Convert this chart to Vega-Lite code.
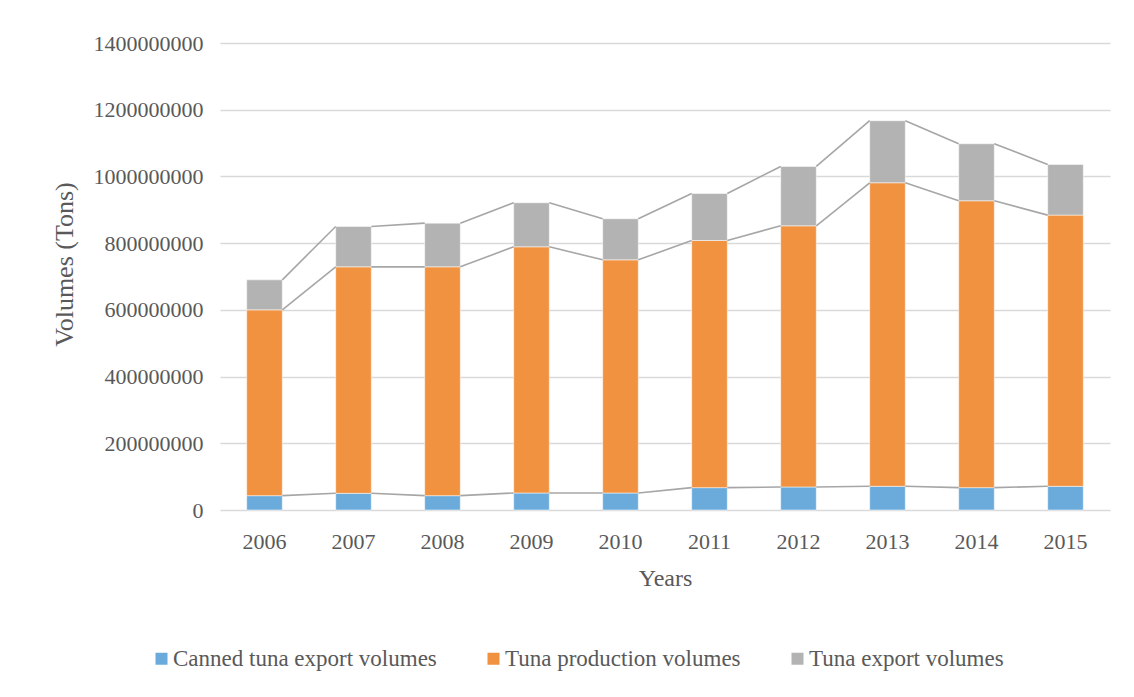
{
  "$schema": "https://vega.github.io/schema/vega-lite/v6.json",
  "width": 890,
  "height": 467,
  "autosize": {"type": "none"},
  "padding": {"left": 220, "top": 43, "right": 24, "bottom": 187},
  "background": "white",
  "config": {"view": {"stroke": null}, "font": "Liberation Serif"},
  "data": {
    "values": [
      {"year": "2006", "series": "Canned tuna export volumes", "value": 43000000},
      {"year": "2006", "series": "Tuna production volumes", "value": 557000000},
      {"year": "2006", "series": "Tuna export volumes", "value": 90000000},
      {"year": "2007", "series": "Canned tuna export volumes", "value": 50000000},
      {"year": "2007", "series": "Tuna production volumes", "value": 679000000},
      {"year": "2007", "series": "Tuna export volumes", "value": 121000000},
      {"year": "2008", "series": "Canned tuna export volumes", "value": 43000000},
      {"year": "2008", "series": "Tuna production volumes", "value": 686000000},
      {"year": "2008", "series": "Tuna export volumes", "value": 131000000},
      {"year": "2009", "series": "Canned tuna export volumes", "value": 51000000},
      {"year": "2009", "series": "Tuna production volumes", "value": 738000000},
      {"year": "2009", "series": "Tuna export volumes", "value": 132000000},
      {"year": "2010", "series": "Canned tuna export volumes", "value": 51000000},
      {"year": "2010", "series": "Tuna production volumes", "value": 699000000},
      {"year": "2010", "series": "Tuna export volumes", "value": 123000000},
      {"year": "2011", "series": "Canned tuna export volumes", "value": 67000000},
      {"year": "2011", "series": "Tuna production volumes", "value": 741000000},
      {"year": "2011", "series": "Tuna export volumes", "value": 141000000},
      {"year": "2012", "series": "Canned tuna export volumes", "value": 69000000},
      {"year": "2012", "series": "Tuna production volumes", "value": 783000000},
      {"year": "2012", "series": "Tuna export volumes", "value": 178000000},
      {"year": "2013", "series": "Canned tuna export volumes", "value": 71000000},
      {"year": "2013", "series": "Tuna production volumes", "value": 910000000},
      {"year": "2013", "series": "Tuna export volumes", "value": 186000000},
      {"year": "2014", "series": "Canned tuna export volumes", "value": 67000000},
      {"year": "2014", "series": "Tuna production volumes", "value": 860000000},
      {"year": "2014", "series": "Tuna export volumes", "value": 171000000},
      {"year": "2015", "series": "Canned tuna export volumes", "value": 71000000},
      {"year": "2015", "series": "Tuna production volumes", "value": 813000000},
      {"year": "2015", "series": "Tuna export volumes", "value": 152000000}
    ]
  },
  "transform": [
    {"stack": "value", "groupby": ["year"], "as": ["v0", "v1"]}
  ],
  "layer": [
    {
      "mark": {"type": "bar", "stroke": "#ffffff", "strokeWidth": 1, "strokeOpacity": 0.5},
      "encoding": {
        "x": {
          "field": "year",
          "type": "ordinal",
          "title": "Years",
          "scale": {"paddingInner": 0.6, "paddingOuter": 0.3},
          "axis": {
            "labelAngle": 0,
            "domain": false,
            "ticks": false,
            "labelFontSize": 22,
            "labelColor": "#595959",
            "labelPadding": 21,
            "titleFontSize": 24,
            "titleFontWeight": "normal",
            "titleColor": "#595959",
            "titlePadding": 14
          }
        },
        "y": {
          "field": "v0",
          "type": "quantitative",
          "title": "Volumes (Tons)",
          "scale": {"domain": [0, 1400000000], "nice": false},
          "axis": {
            "values": [0, 200000000, 400000000, 600000000, 800000000, 1000000000, 1200000000, 1400000000],
            "format": "d",
            "domain": false,
            "ticks": false,
            "grid": true,
            "gridColor": "#d9d9d9",
            "gridWidth": 1.5,
            "labelFontSize": 22,
            "labelColor": "#595959",
            "labelPadding": 17,
            "titleFontSize": 26,
            "titleFontWeight": "normal",
            "titleColor": "#595959",
            "titlePadding": 16,
            "titleY": 221
          }
        },
        "y2": {"field": "v1"},
        "color": {
          "field": "series",
          "type": "nominal",
          "scale": {
            "domain": ["Canned tuna export volumes", "Tuna production volumes", "Tuna export volumes"],
            "range": ["#6aabdc", "#f19240", "#b3b3b3"]
          },
          "legend": {
            "orient": "none",
            "direction": "horizontal",
            "legendX": -70,
            "legendY": 604,
            "title": null,
            "symbolType": "square",
            "symbolSize": 144,
            "symbolStrokeWidth": 0,
            "labelFontSize": 23,
            "labelLimit": 0,
            "labelColor": "#595959",
            "labelOffset": 0,
            "columnPadding": 45
          }
        }
      }
    },
    {
      "transform": [
        {
          "window": [
            {"op": "lead", "field": "year", "as": "next_year"},
            {"op": "lead", "field": "v1", "as": "next_v1"}
          ],
          "groupby": ["series"],
          "sort": [{"field": "year", "order": "ascending"}]
        },
        {"filter": "datum.next_year != null"}
      ],
      "mark": {"type": "rule", "color": "#a6a6a6", "strokeWidth": 1.6},
      "encoding": {
        "x": {"field": "year", "type": "ordinal", "bandPosition": 1},
        "x2": {"field": "next_year", "bandPosition": 0},
        "y": {"field": "v1", "type": "quantitative"},
        "y2": {"field": "next_v1"}
      }
    }
  ]
}
